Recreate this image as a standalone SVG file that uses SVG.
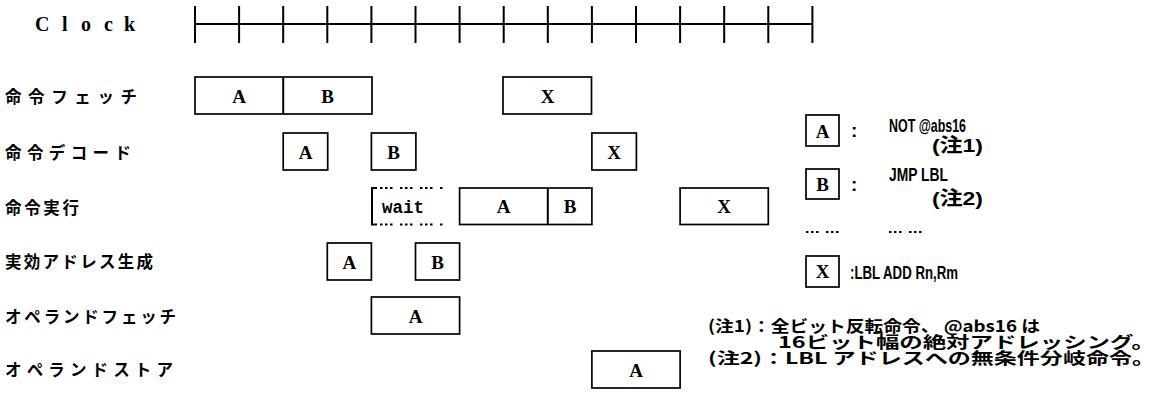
<svg xmlns="http://www.w3.org/2000/svg" width="1159" height="401" viewBox="0 0 1159 401">
<style>
.box{fill:#fff;stroke:#000;stroke-width:1.7}
.ln{stroke:#000;stroke-width:2;fill:none}
.lt{font-family:"Liberation Serif",serif;font-weight:bold;font-size:19px;text-anchor:middle;fill:#000}
.lbl{font-family:"Noto Sans CJK JP",sans-serif;font-weight:bold;font-size:16.5px;fill:#000}
.lg{font-family:"Liberation Sans","Noto Sans CJK JP",sans-serif;font-weight:bold;font-size:19px;fill:#000}
.note{font-family:"Noto Sans CJK JP",sans-serif;font-weight:bold;font-size:16px;fill:#000}
.dots{stroke:#000;stroke-width:2;fill:none;stroke-dasharray:2.5 2.5 2.5 2.5 2.5 7.5}
</style>
<rect width="1159" height="401" fill="#fff"/>
<g id="clock">
<text x="35 62 81 104 124" y="31" font-family="Liberation Serif, serif" font-weight="bold" font-size="20">Clock</text>
<path class="ln" d="M195 24H812.4M195 6V43M239.1 6V43M283.2 6V43M327.3 6V43M371.4 6V43M415.5 6V43M459.6 6V43M503.7 6V43M547.8 6V43M591.9 6V43M636 6V43M680.1 6V43M724.2 6V43M768.3 6V43M812.4 6V43"/>
</g>
<g id="labels">
<text class="lbl" x="5" y="103" textLength="132" lengthAdjust="spacing">命令フェッチ</text>
<text class="lbl" x="5" y="159" textLength="126" lengthAdjust="spacing">命令デコード</text>
<text class="lbl" x="5" y="214" textLength="74" lengthAdjust="spacing">命令実行</text>
<text class="lbl" x="5" y="268" textLength="148" lengthAdjust="spacing">実効アドレス生成</text>
<text class="lbl" x="5" y="323" textLength="171" lengthAdjust="spacing">オペランドフェッチ</text>
<text class="lbl" x="5" y="376" textLength="168" lengthAdjust="spacing">オペランドストア</text>
</g>
<g id="fetch">
<rect class="box" x="195" y="77" width="177" height="37"/>
<line class="ln" x1="283.2" y1="77" x2="283.2" y2="114" stroke-width="1.7"/>
<text class="lt" x="239" y="102.5">A</text>
<text class="lt" x="327.5" y="102.5">B</text>
<rect class="box" x="503" y="77" width="88.5" height="37"/>
<text class="lt" x="547.5" y="102.5">X</text>
</g>
<g id="decode">
<rect class="box" x="283.2" y="133" width="44.5" height="37"/>
<text class="lt" x="305.5" y="158.5">A</text>
<rect class="box" x="371.4" y="133" width="44.5" height="37"/>
<text class="lt" x="393.6" y="158.5">B</text>
<rect class="box" x="591.9" y="133" width="44.5" height="37"/>
<text class="lt" x="614" y="158.5">X</text>
</g>
<g id="execute">
<path class="ln" d="M377 188H372V224.5H377" stroke-width="1.7"/>
<path class="dots" d="M380 188H443M380 224.5H443"/>
<text x="382" y="213" font-family="Liberation Mono, monospace" font-weight="bold" font-size="17.5">wait</text>
<rect class="box" x="459.6" y="188" width="132.3" height="36.5"/>
<line class="ln" x1="547.8" y1="188" x2="547.8" y2="224.5" stroke-width="1.7"/>
<text class="lt" x="503.7" y="213">A</text>
<text class="lt" x="570" y="213">B</text>
<rect class="box" x="680.1" y="188" width="88.2" height="36.5"/>
<text class="lt" x="724.2" y="213">X</text>
</g>
<g id="ea">
<rect class="box" x="327.3" y="243" width="44.1" height="37"/>
<text class="lt" x="349.4" y="268.5">A</text>
<rect class="box" x="415.5" y="243" width="44.1" height="37"/>
<text class="lt" x="437.5" y="268.5">B</text>
</g>
<g id="opfetch">
<rect class="box" x="371.4" y="297" width="88.2" height="37"/>
<text class="lt" x="415.5" y="322.5">A</text>
</g>
<g id="opstore">
<rect class="box" x="591.9" y="351" width="88.2" height="37"/>
<text class="lt" x="636" y="376.5">A</text>
</g>
<g id="legend">
<rect class="box" x="806" y="115" width="33" height="31"/>
<text class="lt" x="822.5" y="137.5" font-size="18">A</text>
<text class="lg" x="851" y="137">:</text>
<text class="lg" x="889" y="132" textLength="77" lengthAdjust="spacingAndGlyphs">NOT @abs16</text>
<text class="lg" x="932" y="152" textLength="51" lengthAdjust="spacingAndGlyphs">(注1)</text>
<rect class="box" x="806" y="169" width="33" height="30"/>
<text class="lt" x="822.5" y="191" font-size="18">B</text>
<text class="lg" x="851" y="191">:</text>
<text class="lg" x="889" y="181" textLength="59" lengthAdjust="spacingAndGlyphs">JMP LBL</text>
<text class="lg" x="932" y="205" textLength="51" lengthAdjust="spacingAndGlyphs">(注2)</text>
<path class="dots" d="M806 232H839M889 232H922"/>
<rect class="box" x="806" y="256" width="33" height="31"/>
<text class="lt" x="822.5" y="278" font-size="18">X</text>
<text class="lg" x="850" y="279" textLength="108" lengthAdjust="spacingAndGlyphs">:LBL ADD Rn,Rm</text>
</g>
<g id="notes">
<text class="note" x="708" y="332" textLength="332" lengthAdjust="spacingAndGlyphs">(注1)：全ビット反転命令、 @abs16 は</text>
<text class="note" x="778" y="348" textLength="377" lengthAdjust="spacingAndGlyphs">16ビット幅の絶対アドレッシング。</text>
<text class="note" x="708" y="364" textLength="447" lengthAdjust="spacingAndGlyphs">(注2)：LBL アドレスへの無条件分岐命令。</text>
</g>
</svg>
